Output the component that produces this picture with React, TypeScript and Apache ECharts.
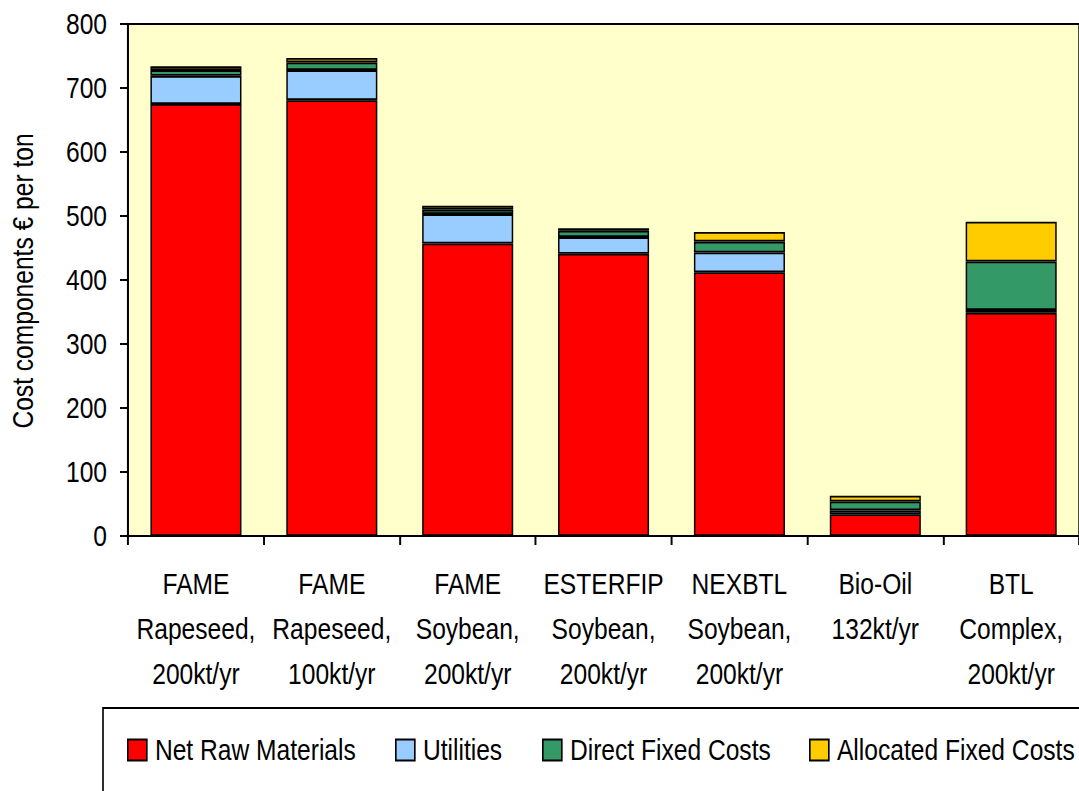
import React, { useEffect, useRef } from "react";
import * as echarts from "echarts";

const categories = [
  "FAME\nRapeseed,\n200kt/yr",
  "FAME\nRapeseed,\n100kt/yr",
  "FAME\nSoybean,\n200kt/yr",
  "ESTERFIP\nSoybean,\n200kt/yr",
  "NEXBTL\nSoybean,\n200kt/yr",
  "Bio-Oil\n132kt/yr",
  "BTL\nComplex,\n200kt/yr",
];

const netRawMaterials = [675, 681, 457, 441, 412, 34, 349];
const utilities = [44, 47, 46, 26, 31, 6, 4];
const directFixedCosts = [9, 12, 7, 10, 17, 14, 76];
const allocatedFixedCosts = [6, 7, 6, 4, 15, 9, 62];

const yTicks = { min: 0, max: 800, interval: 100 };
const yTitle = "Cost components € per ton";

// The chart is laid out in a wider space and squeezed horizontally with CSS,
// which turns the regular sans face into a narrow one.
const SQUEEZE = 0.82;
const W = 1079;
const H = 791;
const sx = (px: number) => px / SQUEEZE;

const FONT = "'Liberation Sans', Arial, sans-serif";
const FS = 30;

const seriesDefs = [
  { name: "Net Raw Materials", data: netRawMaterials, color: "#FF0000", legendLeft: 127 },
  { name: "Utilities", data: utilities, color: "#99CCFF", legendLeft: 395 },
  { name: "Direct Fixed Costs", data: directFixedCosts, color: "#339966", legendLeft: 542 },
  { name: "Allocated Fixed Costs", data: allocatedFixedCosts, color: "#FFCC00", legendLeft: 809 },
];

export default function App() {
  const ref = useRef<HTMLDivElement>(null);

  useEffect(() => {
    if (!ref.current) return;
    const chart = echarts.init(ref.current, null, { renderer: "svg" });
    chart.setOption({
      animation: false,
      backgroundColor: "#FFFFFF",
      textStyle: { fontFamily: FONT, color: "#000" },
      grid: {
        left: sx(128),
        top: 24,
        width: sx(961),
        height: 512,
        show: true,
        backgroundColor: "#FFFFCC",
        borderColor: "#000",
        borderWidth: 2,
      },
      legend: seriesDefs.map((s) => ({
        data: [s.name],
        left: sx(s.legendLeft),
        top: 735,
        padding: 0,
        icon: "rect",
        itemWidth: sx(19),
        itemHeight: 21,
        selectedMode: false,
        textStyle: { fontFamily: FONT, fontSize: FS, color: "#000", padding: [0, 0, 0, sx(4)] },
      })),
      graphic: [
        {
          type: "rect",
          shape: { x: sx(103), y: 708, width: sx(1100), height: 200 },
          style: { fill: "none", stroke: "#000", lineWidth: 2 },
          silent: true,
        },
        {
          // vertical axis title; its own scale keeps it narrow along its length
          // and undoes the horizontal squeeze across its glyph height
          type: "text",
          x: sx(23),
          y: 281,
          rotation: Math.PI / 2,
          scaleX: SQUEEZE,
          scaleY: 1 / SQUEEZE,
          silent: true,
          style: {
            text: yTitle,
            fontFamily: FONT,
            fontSize: FS,
            fill: "#000",
            align: "center",
            verticalAlign: "middle",
          },
        },
      ],
      xAxis: {
        type: "category",
        data: categories,
        axisLine: { lineStyle: { color: "#000", width: 2 } },
        axisTick: { show: true, length: 9, lineStyle: { color: "#000", width: 2.4 } },
        axisLabel: {
          fontFamily: FONT,
          fontSize: FS,
          lineHeight: 45,
          color: "#000",
          margin: 25,
          interval: 0,
        },
      },
      yAxis: {
        type: "value",
        min: yTicks.min,
        max: yTicks.max,
        interval: yTicks.interval,
        axisLine: { show: true, lineStyle: { color: "#000", width: 2.4 } },
        axisTick: { show: true, length: sx(8), lineStyle: { color: "#000", width: 2 } },
        splitLine: { show: false },
        axisLabel: { fontFamily: FONT, fontSize: FS, color: "#000", margin: sx(21) },
      },
      series: seriesDefs.map((s) => ({
        name: s.name,
        type: "bar",
        stack: "cost",
        data: s.data,
        barWidth: "67%",
        itemStyle: { color: s.color, borderColor: "#000", borderWidth: 1.8 },
      })),
    });
    return () => chart.dispose();
  }, []);

  return (
    <div style={{ position: "absolute", left: 0, top: 0, width: W, height: H, overflow: "hidden" }}>
      <div
        ref={ref}
        style={{
          width: sx(W),
          height: H,
          transform: `scaleX(${SQUEEZE})`,
          transformOrigin: "0 0",
        }}
      />
    </div>
  );
}
